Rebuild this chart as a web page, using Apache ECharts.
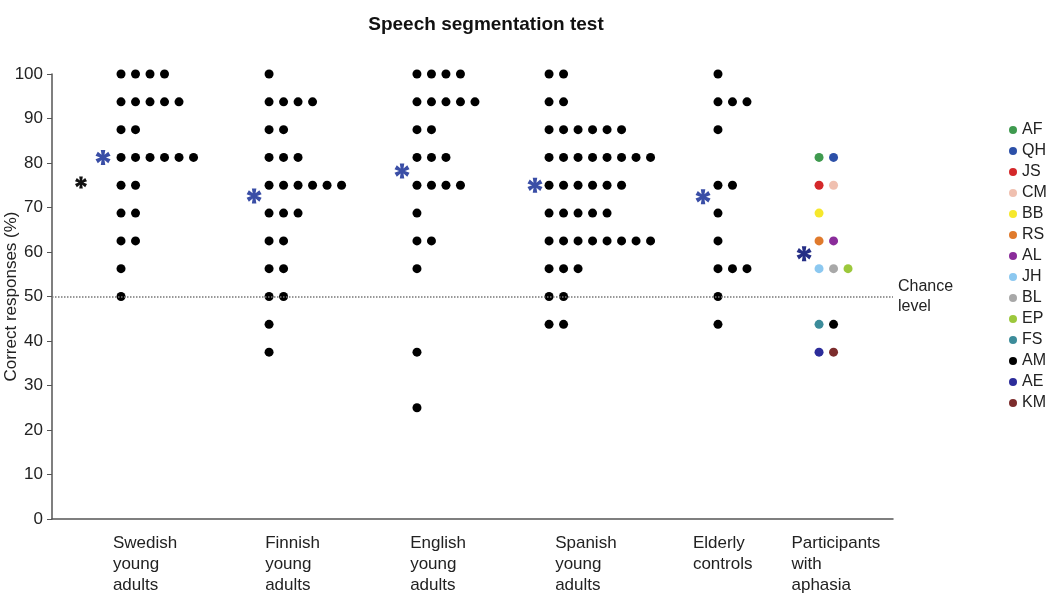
<!DOCTYPE html>
<html>
<head>
<meta charset="utf-8">
<script src="https://cdn.jsdelivr.net/npm/echarts@6/dist/echarts.min.js"></script>
<style>html,body{margin:0;padding:0;background:#fff}#c{width:1050px;height:599px}</style>
</head>
<body>
<div id="c"></div>
<script>
// ---------- data ----------
const groupNames = ['Swedish\nyoung\nadults', 'Finnish\nyoung\nadults', 'English\nyoung\nadults', 'Spanish\nyoung\nadults', 'Elderly\ncontrols', 'Participants\nwith\naphasia'];
const swedish = [100,100,100,100, 93.75,93.75,93.75,93.75,93.75, 87.5,87.5, 81.25,81.25,81.25,81.25,81.25,81.25, 75,75, 68.75,68.75, 62.5,62.5, 56.25, 50];
const finnish = [100, 93.75,93.75,93.75,93.75, 87.5,87.5, 81.25,81.25,81.25, 75,75,75,75,75,75, 68.75,68.75,68.75, 62.5,62.5, 56.25,56.25, 50,50, 43.75, 37.5];
const english = [100,100,100,100, 93.75,93.75,93.75,93.75,93.75, 87.5,87.5, 81.25,81.25,81.25, 75,75,75,75, 68.75, 62.5,62.5, 56.25, 37.5, 25];
const spanish = [100,100, 93.75,93.75, 87.5,87.5,87.5,87.5,87.5,87.5, 81.25,81.25,81.25,81.25,81.25,81.25,81.25,81.25, 75,75,75,75,75,75, 68.75,68.75,68.75,68.75,68.75, 62.5,62.5,62.5,62.5,62.5,62.5,62.5,62.5, 56.25,56.25,56.25, 50,50, 43.75,43.75];
const elderly = [100, 93.75,93.75,93.75, 87.5, 75,75, 68.75, 62.5, 56.25,56.25,56.25, 50, 43.75];
const aphasiaNames = ['AF','QH','JS','CM','BB','RS','AL','JH','BL','EP','FS','AM','AE','KM'];
const aphasiaValues = [81.25,81.25,75,75,68.75,62.5,62.5,56.25,56.25,56.25,43.75,43.75,37.5,37.5];
const aphasiaColors = ['#3f9a4f','#2c50a8','#d4282a','#f0c0b0','#f6e82c','#e07a2c','#8a2c9a','#8cc8f0','#a8a8a8','#9cc83c','#3c8c9a','#000000','#2c2c9a','#7c2c2c'];
const groupMeans = [81.25, 72.6, 78.2, 75.0, 72.4, 59.6];
const swedishExtra = 75.6;   // black asterisk
const yTicks = [0,10,20,30,40,50,60,70,80,90,100];
const chanceLevel = 50;

// ---------- layout (x in dot-slot units) ----------
const xMax = 58;
const groupStart = [4.76, 14.97, 25.17, 34.28, 45.93, 52.9];
const meanOffset = [-1.24, -1.03, -1.03, -0.97, -1.03, -1.03];
const extraOffset = -2.76;
const labelPos = [4.2, 14.7, 24.7, 34.7, 44.2, 51.0];

function stack(values, start){
  const cnt = {};
  return values.map(v => { const k = cnt[v] || 0; cnt[v] = k + 1; return [start + k, v]; });
}
function asteriskPath(){
  const pts = [];
  for (let k = 0; k < 6; k++){
    const t = (-90 + 60*k) * Math.PI/180;
    const d = 17 * Math.PI/180;
    pts.push([Math.cos(t-d), Math.sin(t-d)]);
    pts.push([Math.cos(t+d), Math.sin(t+d)]);
    const ti = t + 30*Math.PI/180;
    pts.push([0.38*Math.cos(ti), 0.38*Math.sin(ti)]);
  }
  return 'path://M' + pts.map(p => (100+100*p[0]).toFixed(1)+' '+(100+100*p[1]).toFixed(1)).join(' L') + ' Z';
}
const AST = asteriskPath();

const groupsData = [swedish, finnish, english, spanish, elderly];
const series = [];
groupsData.forEach((g, i) => {
  series.push({
    type: 'scatter', name: 'g' + i, symbol: 'circle', symbolSize: 9,
    itemStyle: {color: '#000', opacity: 1}, data: stack(g, groupStart[i]), z: 3,
    markLine: i === 0 ? {
      silent: true, symbol: 'none',
      lineStyle: {type: 'dotted', color: '#777', width: 1.5},
      label: {position: 'end', formatter: 'Chance\nlevel', fontSize: 16, color: '#222', lineHeight: 20, distance: 5, fontFamily: 'Liberation Sans'},
      data: [{yAxis: chanceLevel}]
    } : undefined
  });
});
// aphasia participants, each its own series (for the legend)
const aphDots = stack(aphasiaValues, groupStart[5]);
aphasiaNames.forEach((n, i) => {
  series.push({type: 'scatter', name: n, symbol: 'circle', symbolSize: 9,
    itemStyle: {color: aphasiaColors[i], opacity: 1}, data: [aphDots[i]], z: 3});
});
// asterisks
series.push({type: 'scatter', name: 'mean', symbol: AST, symbolSize: 15,
  itemStyle: {color: '#3a4ea6', opacity: 1},
  data: groupMeans.slice(0,5).map((m, i) => [groupStart[i] + meanOffset[i], m]), z: 4});
series.push({type: 'scatter', name: 'meanAph', symbol: AST, symbolSize: 15,
  itemStyle: {color: '#262f86', opacity: 1},
  data: [[groupStart[5] + meanOffset[5], groupMeans[5]]], z: 4});
series.push({type: 'scatter', name: 'extra', symbol: AST, symbolSize: 12,
  itemStyle: {color: '#111', opacity: 1},
  data: [[groupStart[0] + extraOffset, swedishExtra]], z: 4});

const chart = echarts.init(document.getElementById('c'), null, {renderer: 'canvas'});
chart.setOption({
  animation: false,
  backgroundColor: '#fff',
  textStyle: {fontFamily: 'Liberation Sans'},
  title: {text: 'Speech segmentation test', left: 481, top: 10, textAlign: 'center',
    textStyle: {fontSize: 19, fontWeight: 'bold', color: '#111', fontFamily: 'Liberation Sans'}},
  legend: {
    data: aphasiaNames, orient: 'vertical', left: 1004, top: 117,
    icon: 'circle', itemWidth: 8, itemHeight: 8, itemGap: 5,
    textStyle: {fontSize: 16, color: '#222', fontFamily: 'Liberation Sans'},
    itemStyle: {opacity: 1},
    selectedMode: false
  },
  grid: {left: 52, right: 157, top: 74, bottom: 80, outerBoundsMode: 'none', containLabel: false},
  xAxis: {
    type: 'value', min: 0, max: xMax,
    axisLine: {show: true, onZero: false, lineStyle: {color: '#555', width: 1.5}},
    axisTick: {show: false}, splitLine: {show: false},
    axisLabel: {
      customValues: labelPos, align: 'left', verticalAlign: 'top', margin: 14,
      fontSize: 17, lineHeight: 21, color: '#222', fontFamily: 'Liberation Sans',
      formatter: v => { let b = 0; labelPos.forEach((p, i) => { if (Math.abs(p - v) < Math.abs(labelPos[b] - v)) b = i; }); return groupNames[b]; }
    }
  },
  yAxis: {
    type: 'value', min: yTicks[0], max: yTicks[yTicks.length-1], interval: 10,
    name: 'Correct responses (%)', nameLocation: 'middle', nameGap: 32, nameMoveOverlap: false,
    nameTextStyle: {fontSize: 17, color: '#222', fontFamily: 'Liberation Sans'},
    axisLine: {show: true, lineStyle: {color: '#555', width: 1.5}},
    axisTick: {show: true, length: 5, lineStyle: {color: '#555'}},
    splitLine: {show: false},
    axisLabel: {fontSize: 17, color: '#222', margin: 9, fontFamily: 'Liberation Sans'}
  },
  series: series
});
</script>
</body>
</html>
